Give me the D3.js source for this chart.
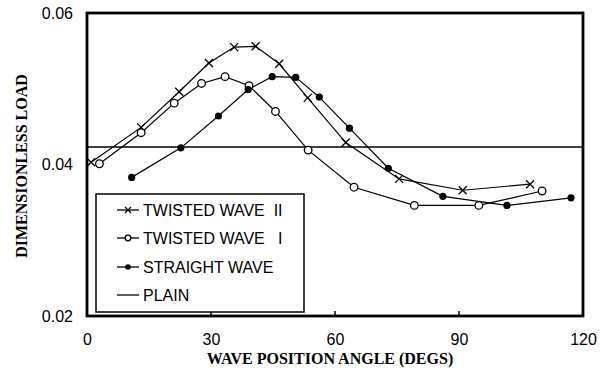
<!DOCTYPE html>
<html>
<head>
<meta charset="utf-8">
<script src="https://cdn.jsdelivr.net/npm/d3@7"></script>
<style>
  html, body { margin: 0; padding: 0; background: #fff; }
  svg { display: block; }
</style>
</head>
<body>
<svg id="chart" width="609" height="374"></svg>
<script>
// Load on a twisted/straight wave bearing vs. wave position angle
const twistedIIAngle = [1, 13.1, 22.3, 29.5, 35.6, 40.8, 46.5, 53.4, 62.6, 75.5, 90.9, 107.2];
const twistedIILoad  = [0.0403, 0.0449, 0.0496, 0.0534, 0.0555, 0.0556, 0.0533, 0.0488, 0.0429, 0.0381, 0.0366, 0.0374];

const twistedIAngle = [3.0, 13.1, 21.1, 27.7, 33.4, 39.2, 45.6, 53.5, 64.6, 79.2, 94.8, 110.1];
const twistedILoad  = [0.0401, 0.0442, 0.0481, 0.0507, 0.0516, 0.0504, 0.0470, 0.0419, 0.0370, 0.0346, 0.0346, 0.0365];

const straightAngle = [10.8, 22.7, 31.8, 39.0, 44.8, 50.5, 56.2, 63.5, 72.9, 86.1, 101.6, 117.1];
const straightLoad  = [0.0383, 0.0422, 0.0464, 0.0499, 0.0516, 0.0515, 0.0489, 0.0448, 0.0395, 0.0358, 0.0346, 0.0356];

const plainLoad = 0.0423;

const xTicks = [0, 30, 60, 90, 120];
const yTicks = [0.02, 0.04, 0.06];
const legendLabels = ["TWISTED WAVE  II", "TWISTED WAVE   I", "STRAIGHT WAVE", "PLAIN"];

const svg = d3.select("#chart");
const x = d3.scaleLinear().domain([0, 120]).range([87, 583]);
const y = d3.scaleLinear().domain([0.02, 0.06]).range([316, 13]);

const sans = "'Liberation Sans', Arial, Helvetica, sans-serif";
const serif = "'Liberation Serif', 'Times New Roman', Times, serif";

// axes (labels only, frame drawn separately)
const xAxis = d3.axisBottom(x).tickValues(xTicks).tickSize(0).tickPadding(0).tickFormat(d3.format("d"));
const gx = svg.append("g").attr("transform", "translate(0,334)").call(xAxis);
gx.select(".domain").remove();
gx.selectAll("text").attr("font-family", sans).attr("font-size", 16).attr("fill", "#000").attr("dy", "0.71em");

const yAxis = d3.axisLeft(y).tickValues(yTicks).tickSize(0).tickPadding(0).tickFormat(d3.format(".2f"));
const gy = svg.append("g").attr("transform", "translate(73,0)").call(yAxis);
gy.select(".domain").remove();
gy.selectAll("text").attr("font-family", sans).attr("font-size", 16).attr("fill", "#000");

// inward tick marks on the bottom axis
svg.append("g").selectAll("line").data([30, 60, 90]).join("line")
  .attr("x1", d => x(d)).attr("x2", d => x(d))
  .attr("y1", y(0.02)).attr("y2", y(0.02) - 5)
  .attr("stroke", "#000").attr("stroke-width", 1.5);

// plain bearing reference
svg.append("line")
  .attr("x1", x(0)).attr("x2", x(120))
  .attr("y1", y(plainLoad)).attr("y2", y(plainLoad))
  .attr("stroke", "#000").attr("stroke-width", 1.5);

const line = d3.line().x(d => x(d[0])).y(d => y(d[1]));
const series = [
  { key: "tw2", pts: d3.zip(twistedIIAngle, twistedIILoad), marker: "cross" },
  { key: "tw1", pts: d3.zip(twistedIAngle, twistedILoad), marker: "open" },
  { key: "st", pts: d3.zip(straightAngle, straightLoad), marker: "filled" }
];

function drawMarker(g, type, cx, cy, s) {
  if (type === "cross") {
    g.append("path")
      .attr("d", `M${cx - s},${cy - s}L${cx + s},${cy + s}M${cx - s},${cy + s}L${cx + s},${cy - s}`)
      .attr("stroke", "#000").attr("stroke-width", 1.3).attr("fill", "none");
  } else if (type === "open") {
    g.append("circle").attr("cx", cx).attr("cy", cy).attr("r", s)
      .attr("fill", "#fff").attr("stroke", "#000").attr("stroke-width", 1.3);
  } else {
    g.append("circle").attr("cx", cx).attr("cy", cy).attr("r", s).attr("fill", "#000");
  }
}

series.forEach(s => {
  svg.append("path").datum(s.pts).attr("d", line)
    .attr("fill", "none").attr("stroke", "#000").attr("stroke-width", 1.2);
});
series.forEach(s => {
  const g = svg.append("g");
  const size = s.marker === "cross" ? 4 : (s.marker === "open" ? 3.8 : 3.6);
  s.pts.forEach(p => drawMarker(g, s.marker, x(p[0]), y(p[1]), size));
});

// legend
const lg = svg.append("g");
lg.append("rect").attr("x", 96).attr("y", 194).attr("width", 208).attr("height", 118)
  .attr("fill", "#fff").attr("stroke", "#000").attr("stroke-width", 1.5);
const rowY = [210, 238, 267, 295];
const legendMarkers = ["cross", "open", "filled", null];
legendLabels.forEach((lab, i) => {
  lg.append("line").attr("x1", 117).attr("x2", 139).attr("y1", rowY[i]).attr("y2", rowY[i])
    .attr("stroke", "#000").attr("stroke-width", 1.3);
  if (legendMarkers[i]) drawMarker(lg, legendMarkers[i], 128, rowY[i], legendMarkers[i] === "cross" ? 3 : 2.8);
  lg.append("text").attr("x", 143).attr("y", rowY[i]).attr("dy", "0.36em")
    .attr("font-family", sans).attr("font-size", 16).attr("xml:space", "preserve")
    .style("white-space", "pre").text(lab);
});

// frame
svg.append("rect").attr("x", x(0)).attr("y", y(0.06)).attr("width", x(120) - x(0)).attr("height", y(0.02) - y(0.06))
  .attr("fill", "none").attr("stroke", "#000").attr("stroke-width", 2.8);

// axis titles
svg.append("text").attr("x", 330).attr("y", 364).attr("text-anchor", "middle")
  .attr("font-family", serif).attr("font-weight", "bold").attr("font-size", 16)
  .text("WAVE POSITION ANGLE (DEGS)");
svg.append("text").attr("transform", "translate(27,166) rotate(-90)").attr("text-anchor", "middle")
  .attr("font-family", serif).attr("font-weight", "bold").attr("font-size", 16)
  .text("DIMENSIONLESS LOAD");
</script>
</body>
</html>
